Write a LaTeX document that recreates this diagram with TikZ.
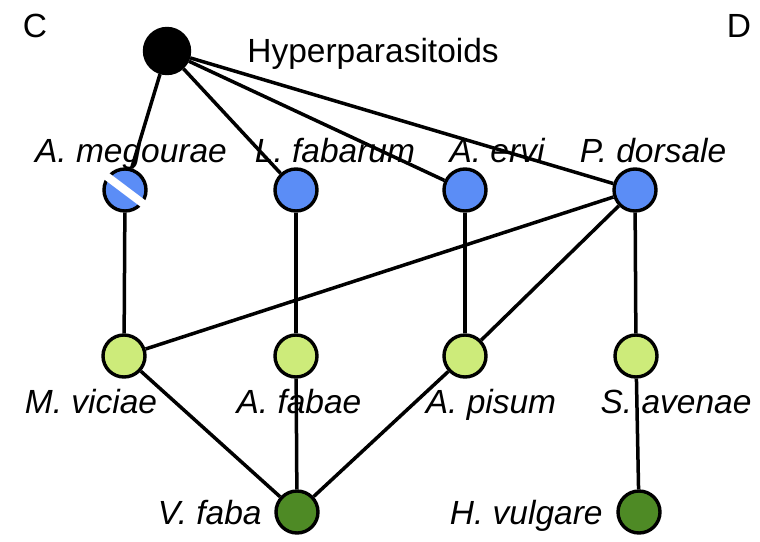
\documentclass[tikz,border=0pt]{standalone}
\usepackage{fontspec}
\setmainfont{Liberation Sans}
\usetikzlibrary{backgrounds}
\usetikzlibrary{calc}

\definecolor{waspblue}{RGB}{91,141,246}
\definecolor{aphidgreen}{RGB}{205,235,122}
\definecolor{plantgreen}{RGB}{78,138,37}

\tikzset{
  sp/.style={circle, draw=black, line width=1.7pt, minimum size=21pt, inner sep=0pt},
  hyper/.style={sp, fill=black, minimum size=22.5pt},
  wasp/.style={sp, fill=waspblue},
  aphid/.style={sp, fill=aphidgreen},
  plant/.style={sp, fill=plantgreen},
  txt/.style={font=\fontsize{16.75}{20}\selectfont, inner sep=0pt},
  lbl/.style={txt, font=\fontsize{16.75}{20}\selectfont\itshape},
  link/.style={line width=1.75pt},
}

\begin{document}
\begin{tikzpicture}[x=0.5pt, y=-0.5pt]
  \useasboundingbox (0,0) rectangle (760,541);

  % panel letters
  \node[txt, anchor=base] (C) at (35,37) {C};
  \node[txt, anchor=base] (D) at (739,37) {D};

  % hyperparasitoid
  \node[hyper] (hyp) at (167,51) {};
  \node[txt, anchor=base west] (hyplbl) at (247,62) {Hyperparasitoids};

  % parasitoids
  \node[wasp] (meg) at (125,190) {};
  \node[wasp] (fab) at (296,190) {};
  \node[wasp] (erv) at (465,190) {};
  \node[wasp] (dor) at (635,190) {};
  \node[lbl, anchor=base] (meglbl) at (131,162) {A. megourae};
  \node[lbl, anchor=base] (fablbl) at (335,162) {L. fabarum};
  \node[lbl, anchor=base] (ervlbl) at (497,162) {A. ervi};
  \node[lbl, anchor=base] (dorlbl) at (653,162) {P. dorsale};

  % aphids
  \node[aphid] (vic) at (124,356) {};
  \node[aphid] (fae) at (296,356) {};
  \node[aphid] (pis) at (465,356) {};
  \node[aphid] (ave) at (636,356) {};
  \node[lbl, anchor=base] (viclbl) at (91,413) {M. viciae};
  \node[lbl, anchor=base] (faelbl) at (299,413) {A. fabae};
  \node[lbl, anchor=base] (pislbl) at (491,413) {A. pisum};
  \node[lbl, anchor=base] (avelbl) at (676,413) {S. avenae};

  % host plants
  \node[plant] (vfa) at (297,512) {};
  \node[plant] (hvu) at (639,512) {};
  \node[lbl, anchor=base east] (vfalbl) at (262,524) {V. faba};
  \node[lbl, anchor=base east] (hvulbl) at (603,524) {H. vulgare};

  % trophic links
  \begin{pgfonlayer}{background}
    \foreach \a/\b in {hyp/meg, hyp/fab, hyp/erv, hyp/dor,
                       meg/vic, fab/fae, erv/pis, dor/vic, dor/pis, dor/ave,
                       vic/vfa, fae/vfa, pis/vfa, ave/hvu}
      \draw[link] (\a) -- (\b);
  \end{pgfonlayer}

  % white stripe on A. megourae
  \draw[white, line width=4pt] ($(meg.143)!-0.08!(meg.-37)$) -- ($(meg.-37)!-0.08!(meg.143)$);
\end{tikzpicture}
\end{document}
